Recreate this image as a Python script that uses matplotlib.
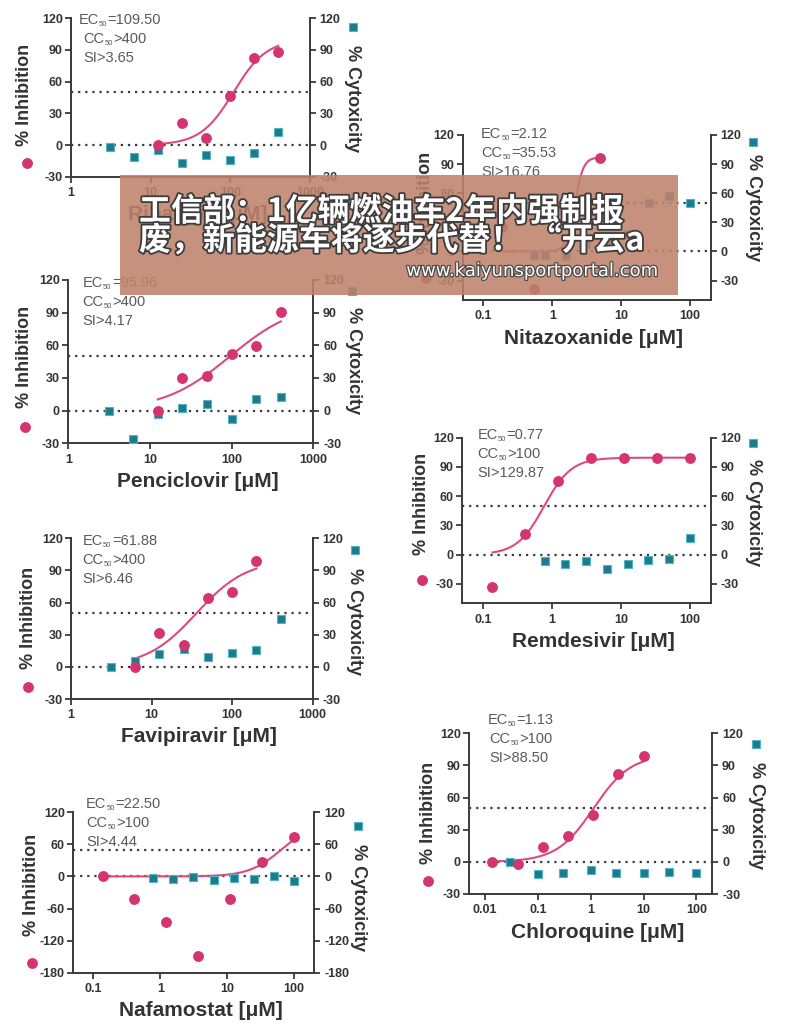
import numpy as np
import matplotlib
matplotlib.use("Agg")
import matplotlib.pyplot as plt
from matplotlib.patches import Rectangle
import matplotlib.patheffects as pe

plt.rcParams['font.family'] = ['Liberation Sans', 'DejaVu Sans']

W, H = 797, 1030

# ---------------- data ----------------
rib_inh_x = [12.5, 25, 50, 100, 200, 400]
rib_inh_y = [0, 21, 7, 46, 82, 88]
rib_cyt_x = [3.125, 6.25, 12.5, 25, 50, 100, 200, 400]
rib_cyt_y = [-1.5, -11, -4.5, -17, -9.5, -14, -8, 12.5]
rib_fit = [0, 100, 109.5, 2.1, 12.5, 400]          # bottom, top, EC50, hill, xmin, xmax
rib_text = ["109.50", ">400", "3.65"]

nit_inh_x = [0.185, 0.55, 4.9]
nit_inh_y = [25, -39, 96.5]
nit_cyt_x = [0.55, 0.78, 1.56, 3.125, 6.25, 12.5, 25, 50, 100]
nit_cyt_y = [-3.5, -3.5, -5, 8, 12, 18, 50, 57.5, 50]
nit_fit = [0, 97, 2.12, 7, 0.185, 4.9]
nit_text = ["2.12", "=35.53", "16.76"]

pen_inh_x = [12.5, 25, 50, 100, 200, 400]
pen_inh_y = [0, 30, 31.5, 52, 59, 91]
pen_cyt_x = [3.125, 6.25, 12.5, 25, 50, 100, 200, 400]
pen_cyt_y = [0, -26, -3.5, 2, 6, -8, 11, 12.5]
pen_fit = [0, 100, 95.96, 1.06, 12.5, 400]
pen_text = ["95.96", ">400", "4.17"]

rem_inh_x = [0.137, 0.41, 1.23, 3.7, 11.1, 33.3, 100]
rem_inh_y = [-33, 21.5, 75.5, 99.5, 99.5, 99.5, 99.5]
rem_cyt_x = [0.78, 1.56, 3.125, 6.25, 12.5, 25, 50, 100]
rem_cyt_y = [-7, -10, -7, -14.5, -9.5, -6, -5, 17.5]
rem_fit = [0, 99.5, 0.77, 2.2, 0.137, 100]
rem_text = ["0.77", ">100", "129.87"]

fav_inh_x = [6.25, 12.5, 25, 50, 100, 200]
fav_inh_y = [0, 32, 20.5, 64.5, 70, 99]
fav_cyt_x = [3.125, 6.25, 12.5, 25, 50, 100, 200, 400]
fav_cyt_y = [0, 5.5, 12, 17, 9.5, 12.5, 16, 45]
fav_fit = [0, 100, 36, 1.4, 6.25, 200]
fav_text = ["61.88", ">400", "6.46"]

chl_inh_x = [0.0137, 0.041, 0.123, 0.37, 1.11, 3.33, 10]
chl_inh_y = [0, -2, 13.5, 24, 44, 82, 99]
chl_cyt_x = [0.03, 0.1, 0.3, 1, 3, 10, 30, 100]
chl_cyt_y = [0, -11, -10, -7.5, -10.5, -10, -9, -10]
chl_fit = [0, 100, 1.13, 1.24, 0.0137, 10]
chl_text = ["1.13", ">100", "88.50"]

naf_inh_x = [0.137, 0.41, 1.23, 3.7, 11.1, 33.3, 100]
naf_inh_y = [0, -43, -85, -149, -43, 27, 73]
naf_cyt_x = [0.78, 1.56, 3.125, 6.25, 12.5, 25, 50, 100]
naf_cyt_y = [-3.5, -5.5, -1, -7, -3, -5.5, 1, -8]
naf_fit = [0, 100, 64, 1.8, 0.137, 100]
naf_text = ["22.50", ">100", "4.44"]

ticks_1_1000 = [1, 10, 100, 1000]
ticks_01_100 = [0.1, 1, 10, 100]
ticks_001_100 = [0.01, 0.1, 1, 10, 100]
yt_std = [-30, 0, 30, 60, 90, 120]
yt_naf = [-180, -120, -60, 0, 60, 120]

panels = [
    dict(name="Ribavirin", ix=rib_inh_x, iy=rib_inh_y, cx=rib_cyt_x, cy=rib_cyt_y, fit=rib_fit, txt=rib_text,
         xlim=(1, 1000), ylim=(-30, 120), xt=ticks_1_1000, yt=yt_std,
         box=(71, 18.3, 310, 176.7), ll=(25, 95), lm=(27, 163), rl=(353, 99), rm=(353, 27),
         ann=(78.3, 83.3, 24.3)),
    dict(name="Nitazoxanide", ix=nit_inh_x, iy=nit_inh_y, cx=nit_cyt_x, cy=nit_cyt_y, fit=nit_fit, txt=nit_text,
         xlim=(0.05, 200), ylim=(-50, 120), xt=ticks_01_100, yt=yt_std,
         box=(462.7, 135, 710.7, 300), ll=(426, 203), lm=(426, 278.3), rl=(753.3, 207.5), rm=(752.7, 142.3),
         ann=(481, 481, 138.3)),
    dict(name="Penciclovir", ix=pen_inh_x, iy=pen_inh_y, cx=pen_cyt_x, cy=pen_cyt_y, fit=pen_fit, txt=pen_text,
         xlim=(1, 1000), ylim=(-30, 120), xt=ticks_1_1000, yt=yt_std,
         box=(68.3, 280, 313.3, 443.3), ll=(25, 356.7), lm=(25, 426.7), rl=(353.3, 361), rm=(351.7, 290.7),
         ann=(82.7, 82.7, 286.7)),
    dict(name="Remdesivir", ix=rem_inh_x, iy=rem_inh_y, cx=rem_cyt_x, cy=rem_cyt_y, fit=rem_fit, txt=rem_text,
         xlim=(0.05, 200), ylim=(-50, 120), xt=ticks_01_100, yt=yt_std,
         box=(462.3, 437.7, 710.7, 603.3), ll=(421.7, 504), lm=(421.7, 580), rl=(753.3, 512.5), rm=(753.3, 442.7),
         ann=(477.3, 477.3, 439.3)),
    dict(name="Favipiravir", ix=fav_inh_x, iy=fav_inh_y, cx=fav_cyt_x, cy=fav_cyt_y, fit=fav_fit, txt=fav_text,
         xlim=(1, 1000), ylim=(-30, 120), xt=ticks_1_1000, yt=yt_std,
         box=(71, 538.3, 312.7, 699), ll=(28.3, 617.5), lm=(28.3, 686.7), rl=(355, 621.7), rm=(355, 550),
         ann=(82.7, 82.7, 545)),
    dict(name="Chloroquine", ix=chl_inh_x, iy=chl_inh_y, cx=chl_cyt_x, cy=chl_cyt_y, fit=chl_fit, txt=chl_text,
         xlim=(0.005, 200), ylim=(-30, 120), xt=ticks_001_100, yt=yt_std,
         box=(469.3, 733.3, 712.3, 894), ll=(428.3, 813), lm=(428.3, 881), rl=(756.7, 815.8), rm=(756, 744),
         ann=(487.3, 489.3, 724)),
    dict(name="Nafamostat", ix=naf_inh_x, iy=naf_inh_y, cx=naf_cyt_x, cy=naf_cyt_y, fit=naf_fit, txt=naf_text,
         xlim=(0.05, 200), ylim=(-180, 120), xt=ticks_01_100, yt=yt_naf,
         box=(73.3, 812.3, 314.3, 972.7), ll=(31.7, 885), lm=(31.7, 962.7), rl=(358.3, 897.5), rm=(358.3, 826),
         ann=(86, 86, 808.3)),
]

PINK = "#d43570"
CURVE = "#dc4a7e"
TEAL = "#1b7d8c"
TEAL_E = "#55b4c4"
AX = "#3a3a3a"
LAB = "#333333"
ANN = "#5a5a5a"

fig = plt.figure(figsize=(W / 100, H / 100), dpi=100)
fig.patch.set_facecolor("white")

ov = fig.add_axes([0, 0, 1, 1], zorder=10)
ov.set_xlim(0, W)
ov.set_ylim(H, 0)
ov.axis("off")


def fmt(v):
    if v >= 1:
        return "%d" % v
    return ("%g" % v)


for p in panels:
    L, T, R, B = p["box"]
    ax = fig.add_axes([L / W, 1 - B / H, (R - L) / W, (B - T) / H])
    ax.set_xscale("log")
    ax.set_xlim(*p["xlim"])
    ax.set_ylim(*p["ylim"])
    ax.patch.set_alpha(0)
    ax2 = ax.twinx()
    ax2.set_ylim(*p["ylim"])
    ax2.set_xscale("log")
    ax2.set_xlim(*p["xlim"])

    for s in ["top", "right"]:
        ax.spines[s].set_visible(False)
    for s in ["top", "left", "bottom"]:
        ax2.spines[s].set_visible(False)
    for s in ["left", "bottom"]:
        ax.spines[s].set_color(AX)
        ax.spines[s].set_linewidth(1.4)
    ax2.spines["right"].set_color(AX)
    ax2.spines["right"].set_linewidth(1.4)

    ax.set_xticks(p["xt"])
    ax.set_xticklabels([fmt(v) for v in p["xt"]])
    ax.xaxis.set_minor_locator(matplotlib.ticker.NullLocator())
    ax.set_yticks(p["yt"])
    ax.set_yticklabels([str(v) for v in p["yt"]])
    ax2.set_yticks(p["yt"])
    ax2.set_yticklabels([str(v) for v in p["yt"]])
    ax2.xaxis.set_minor_locator(matplotlib.ticker.NullLocator())

    ax.tick_params(axis="x", direction="out", length=4.5, width=1.3, color=AX, labelsize=9,
                   labelcolor=LAB, pad=3)
    ax.tick_params(axis="y", direction="out", length=4, width=1.3, color=AX, labelsize=9,
                   labelcolor=LAB, pad=2)
    ax2.tick_params(axis="y", direction="out", length=4, width=1.3, color=AX, labelsize=9,
                    labelcolor=LAB, pad=3)
    for lbl in ax.get_xticklabels() + ax.get_yticklabels() + ax2.get_yticklabels():
        lbl.set_fontweight("bold")

    ax.axhline(0, color=AX, lw=1.6, ls=(0, (1, 2.2)), zorder=1)
    ax.axhline(50, color=AX, lw=1.6, ls=(0, (1, 2.2)), zorder=1)

    b, t, ec, h, x0, x1 = p["fit"]
    xx = np.logspace(np.log10(x0), np.log10(x1), 300)
    yy = b + (t - b) / (1 + (ec / xx) ** h)
    ax.plot(xx, yy, color=CURVE, lw=1.5, zorder=3)

    ax2.plot(p["cx"], p["cy"], ls="none", marker="s", ms=6, mfc=TEAL, mec=TEAL_E, mew=0.8,
             zorder=4, clip_on=False)
    ax2.plot(p["ix"], p["iy"], ls="none", marker="o", ms=6.8, mfc=PINK, mec=PINK, zorder=5,
             clip_on=False)

    # axis titles
    ov.text(p["ll"][0], p["ll"][1], "% Inhibition", rotation=90, ha="center", va="center",
            fontsize=13, fontweight="bold", color=LAB)
    ov.plot([p["lm"][0]], [p["lm"][1]], marker="o", ms=6.8, color=PINK)
    ov.text(p["rl"][0], p["rl"][1], "% Cytoxicity", rotation=-90, ha="center", va="center",
            fontsize=13, fontweight="bold", color=LAB)
    ov.plot([p["rm"][0]], [p["rm"][1]], marker="s", ms=6, mfc=TEAL, mec=TEAL_E, mew=0.8)
    ov.text((L + R) / 2 + 7, B + 38, p["name"] + " [μM]", ha="center", va="center",
            fontsize=15, fontweight="bold", color=LAB)

    # EC50 / CC50 / SI annotation
    xa, xb, yb = p["ann"]
    ec_v, cc_v, si_v = p["txt"]
    cc_str = cc_v if cc_v[0] in "=>" else "=" + cc_v
    for i, (pre, val, xs) in enumerate([("EC", "=" + ec_v, xa), ("CC", cc_str, xb)]):
        t1 = ov.text(xs, yb + 19 * i, pre, fontsize=10.5, color=ANN, va="baseline", ha="left")
        t2 = ov.annotate("50", xy=(1, 0), xycoords=t1, xytext=(0.2, -0.8), textcoords="offset points",
                         fontsize=5.5, color=ANN, va="bottom", ha="left")
        ov.annotate(val, xy=(1, 0), xycoords=(t2, t1), xytext=(0.2, 0), textcoords="offset points",
                    fontsize=10.5, color=ANN, va="bottom", ha="left")
    ov.text(xb, yb + 38, "SI>" + si_v, fontsize=10.5, color=ANN, va="baseline", ha="left")

# ---------------- watermark overlay ----------------
ov.add_patch(Rectangle((120, 175), 558, 120, facecolor="#be826b", alpha=0.88, edgecolor="none", zorder=20))
stroke = [pe.withStroke(linewidth=2.6, foreground="#3c3c3c")]
ov.text(139, 212, "工信部：1亿辆燃油车2年内强制报", fontsize=23, fontweight="bold", color="white",
        family=["Noto Sans CJK SC", "DejaVu Sans"], va="center", ha="left", zorder=21, path_effects=stroke)
ov.text(139, 241, "废，新能源车将逐步代替！ “开云a", fontsize=23, fontweight="bold", color="white",
        family=["Noto Sans CJK SC", "DejaVu Sans"], va="center", ha="left", zorder=21, path_effects=stroke)
ov.text(658, 271, "www.kaiyunsportportal.com", fontsize=13, color="white",
        family=["DejaVu Sans"], va="center", ha="right", zorder=21,
        path_effects=[pe.withStroke(linewidth=1.8, foreground="#4a4a4a")])

fig.savefig("out.png", dpi=100, facecolor="white")
